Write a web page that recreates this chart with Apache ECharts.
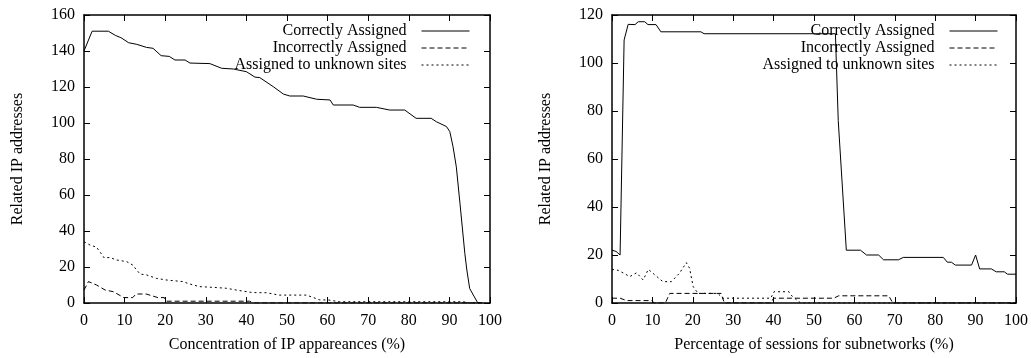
<!DOCTYPE html>
<html>
<head>
<meta charset="utf-8">
<script src="https://cdn.jsdelivr.net/npm/echarts@6/dist/echarts.min.js"></script>
<style>
  html, body { margin: 0; padding: 0; background: #fff; }
  #chart { width: 1031px; height: 358px; }
</style>
</head>
<body>
<div id="chart"></div>
<script>
// series names, shared by both panels
const NAMES = ['Correctly Assigned', 'Incorrectly Assigned', 'Assigned to unknown sites'];

// left panel: concentration of IP appearances (%) -> related IPs
const leftCorrect = [[0,140],[2,151],[6,151],[7.7,148.7],[9.1,147.4],[11,144.6],[13,143.7],[15.4,142],[17,141.5],[19,137.4],[21,137],[22.4,135],[24.9,135],[26.1,133.3],[31,133],[33.9,130.4],[36.8,130],[40,128.5],[42.1,125.5],[43.3,125.2],[46.6,120.2],[49.1,116.1],[50.7,115],[54,115],[57.3,113.2],[60.6,112.8],[61.4,110],[66.3,110],[67.9,108.7],[72,108.7],[75.3,107.2],[79,107.2],[81.8,102.6],[85.5,102.6],[86.8,100.7],[89.3,98],[90.1,95.2],[90.9,86.8],[91.7,75.7],[92.6,55.4],[93.8,27.6],[94.3,18.3],[95,8],[97,0],[98,0]];
const leftIncorrect = [[0,7.2],[1.1,11.9],[3.1,10],[5.2,7.2],[7.2,6.3],[9.8,3],[12,3],[12.8,5],[15.3,5],[18.2,3],[19.8,3],[20.2,1],[40.8,1],[41.6,0],[98,0]];
const leftUnknown = [[0,34],[1.5,32.2],[3.1,31],[5,25],[6.4,25.3],[8,23.9],[10.5,23],[12,21.1],[13.8,16.1],[15.4,15.6],[17.8,13.7],[20.2,12.8],[24.3,11.9],[26,10.6],[28.4,9.1],[31.7,8.7],[35,8.2],[38.3,6.9],[41.5,5.8],[45,5.7],[48,4.4],[54.8,4.4],[58.1,1.7],[60.1,1.7],[63,0.7],[93.4,0.7],[95,0],[98,0]];

// right panel: percentage of sessions for subnetworks (%) -> related IPs
const rightCorrect = [[0,22],[1,21.5],[2,20],[3,109.6],[4,116.1],[5.7,116],[6.5,117.2],[8.1,117.2],[8.9,116],[10.9,116],[12.1,113],[22,113],[22.8,112.2],[55.3,112.2],[56,76],[58,22],[61.5,22],[63,20],[66,20],[67.2,18],[70.9,18],[72.1,19],[82,19],[83,17],[84,17],[85,15.8],[89,15.8],[90,20],[91,14.2],[93.9,14.2],[95.1,13],[97.1,13],[97.9,12],[100,12]];
const rightIncorrect = [[0,2],[2,2],[3.6,1],[9.8,1],[10.5,0],[13.2,0],[14.3,4],[27,4],[27.8,0],[39.3,0],[40,2],[54.9,2],[56.1,3],[68.5,3],[69.5,0],[100,0]];
const rightUnknown = [[0,14],[1.6,13.6],[4.4,11],[6.1,12.6],[7.7,9.6],[9,14],[10.6,11.7],[12.6,8.9],[14.7,8.9],[16.7,12.4],[18.4,16.8],[19.2,14.5],[20.1,6.8],[21.3,4],[26.2,4],[27.4,2],[39.3,2],[40.1,4.7],[43.8,4.7],[44.6,2.8],[46.7,0],[100,0]];

const FONT = 'Liberation Serif';
const BLACK = '#000';
const DASH = { solid: 'solid', dashed: [5, 3], dotted: [2, 3] };

const AXIS_LINE = { show: true, onZero: false, lineStyle: { color: BLACK, width: 1.5 } };
const TICK = { show: true, inside: true, length: 6, lineStyle: { color: BLACK, width: 1 } };
const LABEL = { color: BLACK, fontFamily: FONT, fontSize: 16 };

function xAxes(grid, name) {
  const base = { type: 'value', gridIndex: grid, min: 0, max: 100, interval: 10, splitLine: { show: false }, axisLine: AXIS_LINE, axisTick: TICK };
  return [
    { ...base, position: 'bottom', name, nameLocation: 'middle', nameGap: 34,
      nameTextStyle: LABEL, axisLabel: { ...LABEL, margin: 10 } },
    { ...base, position: 'top', axisLabel: { show: false } },
  ];
}
function yAxes(grid, max) {
  const base = { type: 'value', gridIndex: grid, min: 0, max, interval: 20, splitLine: { show: false }, axisLine: AXIS_LINE, axisTick: TICK };
  return [
    { ...base, position: 'left', name: 'Related IP addresses', nameLocation: 'middle', nameGap: 58,
      nameTextStyle: LABEL, axisLabel: { ...LABEL, margin: 9 } },
    { ...base, position: 'right', axisLabel: { show: false } },
  ];
}
function line(name, data, axis, type) {
  return {
    name, type: 'line', data, xAxisIndex: axis, yAxisIndex: axis, symbol: 'none',
    lineStyle: { color: BLACK, width: 1, type }, itemStyle: { color: BLACK },
  };
}
function legends(right) {
  return NAMES.map((n, i) => ({
    data: [n], right, top: 23 + i * 17, orient: 'horizontal', align: 'right',
    itemWidth: 48, itemHeight: 10, itemGap: 0, padding: 0, selectedMode: false,
    itemStyle: { opacity: 0 }, lineStyle: { width: 1 },
    textStyle: { ...LABEL, padding: [0, 10, 0, 0] },
  }));
}

const chart = echarts.init(document.getElementById('chart'), null, { renderer: 'canvas' });
chart.setOption({
  animation: false,
  backgroundColor: '#fff',
  grid: [
    { left: 84, top: 15, width: 406, height: 288 },
    { left: 612, top: 15, width: 406, height: 288 },
  ],
  xAxis: [...xAxes(0, 'Concentration of IP appareances (%)'), ...xAxes(1, 'Percentage of sessions for subnetworks (%)')],
  yAxis: [...yAxes(0, 160), ...yAxes(1, 120)],
  legend: [...legends(561), ...legends(33)],
  series: [
    line(NAMES[0], leftCorrect, 0, DASH.solid),
    line(NAMES[1], leftIncorrect, 0, DASH.dashed),
    line(NAMES[2], leftUnknown, 0, DASH.dotted),
    line(NAMES[0], rightCorrect, 2, DASH.solid),
    line(NAMES[1], rightIncorrect, 2, DASH.dashed),
    line(NAMES[2], rightUnknown, 2, DASH.dotted),
  ],
});
</script>
</body>
</html>
